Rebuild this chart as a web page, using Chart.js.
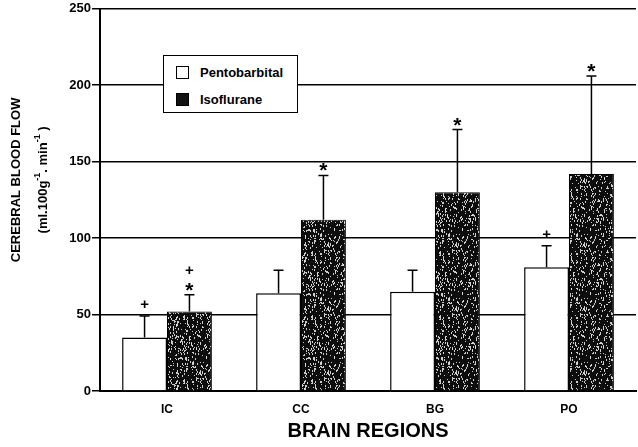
<!DOCTYPE html>
<html>
<head>
<meta charset="utf-8">
<script src="https://cdn.jsdelivr.net/npm/chart.js@4"></script>
<style>
  body { margin: 0; background: #fff; }
  #wrap { position: relative; width: 638px; height: 447px; }
  #legend {
    position: absolute; left: 163px; top: 55px; width: 133px; height: 56px;
    border: 1.5px solid #000; background: #fff;
    font: bold 13px "Liberation Sans", Arial, sans-serif; color: #000;
  }
  .row { position: absolute; left: 12px; display: flex; align-items: center; }
  .sw { width: 13px; height: 13px; border: 1.5px solid #000; margin-right: 11px; box-sizing: border-box; }
</style>
</head>
<body>
<div id="wrap">
  <canvas id="chart" width="638" height="447"></canvas>
  <div id="legend">
    <div class="row" style="top:9px"><div class="sw" style="background:#fff"></div>Pentobarbital</div>
    <div class="row" style="top:36px"><div class="sw" style="background:#111"></div>Isoflurane</div>
  </div>
</div>
<script>
// data
const regions = ['IC', 'CC', 'BG', 'PO'];
const pentoMeans = [35, 64, 65, 81];
const pentoSD = [14, 15, 14, 14];
const isoMeans = [52, 112, 130, 142];
const isoSD = [11, 29, 41, 64];
const pentoMarks = ['+', '', '', '+'];
const isoMarks = [['+', '*'], ['*'], ['*'], ['*']];
const yTicks = [0, 50, 100, 150, 200, 250];
const yTitle = 'CEREBRAL BLOOD FLOW';
// unit line: [text, superscript?]
const yUnits = [['(ml.100g', false], ['-1', true], ['. min', false], ['-1', true], [' )', false]];

// speckled dark fill like the printed figure (fixed hash, no Math.random)
function makeSpeckle() {
  const c = document.createElement('canvas');
  c.width = 64; c.height = 64;
  const g = c.getContext('2d');
  g.fillStyle = '#0d0d0d';
  g.fillRect(0, 0, 64, 64);
  let s = 12345;
  const next = () => {
    s = (s + 0x6D2B79F5) | 0;
    let t = Math.imul(s ^ (s >>> 15), 1 | s);
    t = (t + Math.imul(t ^ (t >>> 7), 61 | t)) ^ t;
    return ((t ^ (t >>> 14)) >>> 0) / 4294967296;
  };
  g.fillStyle = 'rgba(225,225,225,0.9)';
  for (let i = 0; i < 520; i++) {
    const x = Math.floor(next() * 64);
    const y = Math.floor(next() * 64);
    g.fillRect(x, y, 1, 1 + Math.floor(next() * 2));
  }
  return document.getElementById('chart').getContext('2d').createPattern(c, 'repeat');
}

const errorBars = {
  id: 'errorBars',
  afterDatasetsDraw(chart) {
    const ctx = chart.ctx;
    const y = chart.scales.y;
    const sds = [pentoSD, isoSD];
    const marks = [pentoMarks.map(m => m ? [m] : []), isoMarks];
    ctx.save();
    ctx.strokeStyle = '#000';
    ctx.fillStyle = '#000';
    ctx.lineWidth = 1.5;
    chart.data.datasets.forEach((ds, di) => {
      chart.getDatasetMeta(di).data.forEach((bar, i) => {
        const top = y.getPixelForValue(ds.data[i] + sds[di][i]);
        ctx.beginPath();
        ctx.moveTo(bar.x, bar.y);
        ctx.lineTo(bar.x, top);
        ctx.moveTo(bar.x - 5, top);
        ctx.lineTo(bar.x + 5, top);
        ctx.stroke();
        ctx.textAlign = 'center';
        ctx.textBaseline = 'alphabetic';
        const m = marks[di][i];
        m.forEach((t, k) => {
          const yy = top - 7 - (m.length - 1 - k) * 13;
          ctx.font = t === '*' ? 'bold 21px "Liberation Sans"' : 'bold 15px "Liberation Sans"';
          ctx.fillText(t, bar.x, t === '*' ? yy + 9 : yy);
        });
      });
    });
    ctx.restore();
  }
};

// rotated two-line y title, sitting a bit above the axis middle like the original
const yTitlePlugin = {
  id: 'yTitle',
  afterDraw(chart) {
    const ctx = chart.ctx;
    const a = chart.chartArea;
    const cy = (a.top + a.bottom) / 2 - 20;
    ctx.save();
    ctx.fillStyle = '#000';
    ctx.textBaseline = 'middle';
    ctx.translate(16, cy);
    ctx.rotate(-Math.PI / 2);
    ctx.font = 'bold 13px "Liberation Sans"';
    ctx.textAlign = 'center';
    ctx.fillText(yTitle, 0, 0);
    // second line with real superscripts
    const big = 'bold 13px "Liberation Sans"', small = 'bold 9px "Liberation Sans"';
    let w = 0;
    yUnits.forEach(([t, sup]) => { ctx.font = sup ? small : big; w += ctx.measureText(t).width; });
    let x = -w / 2;
    ctx.textAlign = 'left';
    yUnits.forEach(([t, sup]) => {
      ctx.font = sup ? small : big;
      ctx.fillText(t, x, sup ? 22 : 27);
      x += ctx.measureText(t).width;
    });
    ctx.restore();
  }
};

new Chart(document.getElementById('chart'), {
  type: 'bar',
  data: {
    labels: regions,
    datasets: [
      { label: 'Pentobarbital', data: pentoMeans, backgroundColor: '#fff', borderColor: '#000', borderWidth: 1.5 },
      { label: 'Isoflurane', data: isoMeans, backgroundColor: makeSpeckle(), borderColor: '#000', borderWidth: 1 }
    ]
  },
  options: {
    responsive: false,
    animation: false,
    layout: { padding: { top: 8, right: 2, left: 0, bottom: 0 } },
    datasets: { bar: { categoryPercentage: 0.67, barPercentage: 1.0 } },
    plugins: { legend: { display: false }, tooltip: { enabled: false } },
    scales: {
      x: {
        afterFit: s => { s.height = 56; },
        grid: { display: false, drawTicks: false },
        border: { color: '#000', width: 2 },
        ticks: { color: '#000', padding: 11, font: { family: 'Liberation Sans', weight: 'bold', size: 12 } },
        title: { display: true, text: 'BRAIN REGIONS', color: '#000', padding: { top: 1 }, font: { family: 'Liberation Sans', weight: 'bold', size: 20 } }
      },
      y: {
        min: 0, max: 250,
        afterFit: s => { s.width = 100; },
        afterBuildTicks: s => { s.ticks = yTicks.map(v => ({ value: v })); },
        grid: { color: '#000', lineWidth: 1.5, tickLength: 8, tickColor: '#000' },
        border: { color: '#000', width: 2 },
        ticks: { color: '#000', padding: 1, font: { family: 'Liberation Sans', weight: 'bold', size: 13 } },
        title: { display: false }
      }
    }
  },
  plugins: [errorBars, yTitlePlugin]
});
</script>
</body>
</html>
